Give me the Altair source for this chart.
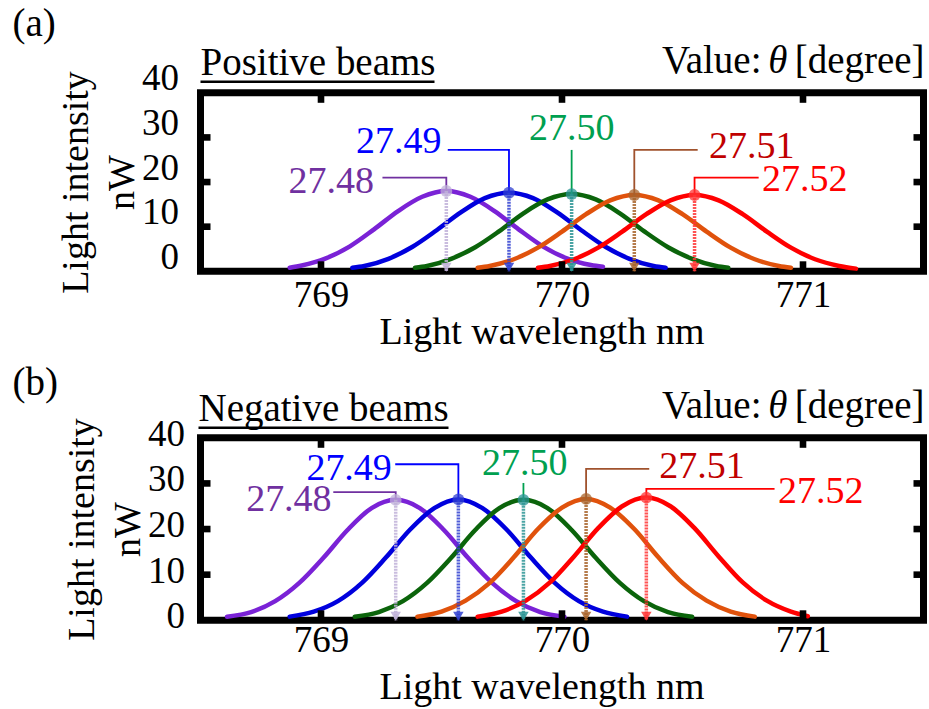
import altair as alt
import pandas as pd

FONT = "Liberation Serif, Times New Roman, Tinos, DejaVu Serif, serif"

SERIES = ["27.48", "27.49", "27.50", "27.51", "27.52"]
CURVE_COLORS = ["#7a22d6", "#0000dd", "#0b640b", "#e0520c", "#ff0000"]
ARROW_COLORS = ["#bfb0d8", "#2f3fd0", "#2a9494", "#a8642c", "#ff3535"]
LEADER_COLORS = ["#7030a0", "#0000ff", "#00a050", "#a0522d", "#ff0000"]
LABEL_COLORS = ["#7030a0", "#0000ff", "#00a050", "#c00000", "#ff0000"]
LABEL_ALIGN = ["right", "right", "center", "left", "left"]

X_TICKS = [769, 770, 771]
Y_TICKS = [0, 10, 20, 30, 40]
X_DOMAIN = [768.5, 771.5]
Y_DOMAIN = [0, 40]

# ---------------- (a) Positive beams ----------------
pos_wl_2748 = [768.87, 768.92, 769.02, 769.12, 769.22, 769.32, 769.42, 769.52, 769.62, 769.72, 769.82, 769.92, 770.02, 770.12, 770.17]
pos_nw_2748 = [0.8, 1.3, 2.9, 5.6, 9.4, 13.5, 16.7, 18.0, 16.7, 13.5, 9.4, 5.6, 2.9, 1.4, 1.0]
pos_wl_2749 = [769.13, 769.18, 769.28, 769.38, 769.48, 769.58, 769.68, 769.78, 769.88, 769.98, 770.08, 770.18, 770.28, 770.38, 770.43]
pos_nw_2749 = [0.8, 1.2, 2.8, 5.5, 9.2, 13.2, 16.4, 17.6, 16.4, 13.2, 9.2, 5.5, 2.8, 1.2, 0.8]
pos_wl_2750 = [769.39, 769.44, 769.54, 769.64, 769.74, 769.84, 769.94, 770.04, 770.14, 770.24, 770.34, 770.44, 770.54, 770.64, 770.69]
pos_nw_2750 = [0.8, 1.2, 2.8, 5.4, 9.0, 13.0, 16.1, 17.3, 16.1, 13.0, 9.0, 5.4, 2.8, 1.2, 0.8]
pos_wl_2751 = [769.65, 769.70, 769.80, 769.90, 770.00, 770.10, 770.20, 770.30, 770.40, 770.50, 770.60, 770.70, 770.80, 770.90, 770.95]
pos_nw_2751 = [0.8, 1.2, 2.7, 5.3, 8.9, 12.8, 15.9, 17.1, 15.9, 12.8, 8.9, 5.3, 2.7, 1.2, 0.8]
pos_wl_2752 = [769.90, 769.95, 770.05, 770.15, 770.25, 770.35, 770.45, 770.55, 770.65, 770.75, 770.85, 770.95, 771.05, 771.15, 771.22]
pos_nw_2752 = [0.8, 1.2, 2.7, 5.3, 8.9, 12.8, 15.9, 17.1, 15.9, 12.8, 8.9, 5.3, 2.7, 1.2, 0.6]

pos_peak_wl = [769.52, 769.78, 770.04, 770.30, 770.55]
pos_peak_nw = [18.0, 17.6, 17.3, 17.1, 17.1]
pos_label_wl = [769.22, 769.50, 770.04, 770.61, 770.83]
pos_label_nw = [17.5, 26.4, 29.4, 25.3, 17.9]
pos_leader_wl = [769.255, 769.526, 770.04, 770.563, 770.816]
pos_leader_nw = [21.0, 27.2, 27.2, 27.2, 21.0]

# ---------------- (b) Negative beams ----------------
neg_wl_2748 = [768.61, 768.71, 768.81, 768.91, 769.01, 769.11, 769.21, 769.31, 769.41, 769.51, 769.61, 769.71, 769.81, 769.91, 770.01]
neg_nw_2748 = [0.8, 1.8, 4.2, 8.2, 13.7, 19.8, 24.6, 26.4, 24.6, 19.8, 13.7, 8.2, 4.2, 1.8, 0.8]
neg_wl_2749 = [768.87, 768.97, 769.07, 769.17, 769.27, 769.37, 769.47, 769.57, 769.67, 769.77, 769.87, 769.97, 770.07, 770.17, 770.27]
neg_nw_2749 = [0.8, 1.9, 4.2, 8.2, 13.8, 19.9, 24.6, 26.5, 24.6, 19.9, 13.8, 8.2, 4.2, 1.9, 0.8]
neg_wl_2750 = [769.14, 769.24, 769.34, 769.44, 769.54, 769.64, 769.74, 769.84, 769.94, 770.04, 770.14, 770.24, 770.34, 770.44, 770.54]
neg_nw_2750 = [0.8, 1.8, 4.2, 8.2, 13.7, 19.8, 24.6, 26.4, 24.6, 19.8, 13.7, 8.2, 4.2, 1.8, 0.8]
neg_wl_2751 = [769.40, 769.50, 769.60, 769.70, 769.80, 769.90, 770.00, 770.10, 770.20, 770.30, 770.40, 770.50, 770.60, 770.70, 770.80]
neg_nw_2751 = [0.8, 1.9, 4.3, 8.2, 13.8, 20.0, 24.7, 26.6, 24.7, 20.0, 13.8, 8.2, 4.3, 1.9, 0.8]
neg_wl_2752 = [769.65, 769.75, 769.85, 769.95, 770.05, 770.15, 770.25, 770.35, 770.45, 770.55, 770.65, 770.75, 770.85, 770.95, 771.02]
neg_nw_2752 = [0.8, 1.9, 4.3, 8.3, 14.0, 20.2, 25.0, 26.9, 25.0, 20.2, 14.0, 8.3, 4.3, 1.9, 0.9]

neg_peak_wl = [769.31, 769.57, 769.84, 770.10, 770.35]
neg_peak_nw = [26.4, 26.5, 26.4, 26.6, 26.9]
neg_label_wl = [769.044, 769.294, 769.845, 770.404, 770.896]
neg_label_nw = [23.9, 30.8, 31.9, 31.2, 25.7]
neg_leader_wl = [769.051, 769.308, 769.84, 770.362, 770.882]
neg_leader_nw = [28.1, 34.2, 30.1, 33.2, 28.8]

# frame tick glyphs (inward)
TICK_UP = "M-0.33,0 L0.33,0 L0.33,-1 L-0.33,-1 Z"
TICK_DOWN = "M-0.33,0 L0.33,0 L0.33,1 L-0.33,1 Z"
TICK_RIGHT = "M0,-0.33 L1,-0.33 L1,0.33 L0,0.33 Z"
TICK_LEFT = "M0,-0.33 L-1,-0.33 L-1,0.33 L0,0.33 Z"


def build_panel(wls, nws, peak_wl, peak_nw, label_wl, label_nw, leader_wl, leader_nw,
                tag, title, height, lay):
    xs = alt.Scale(domain=X_DOMAIN, nice=False, zero=False)
    ys = alt.Scale(domain=Y_DOMAIN, nice=False, zero=False)
    xaxis = alt.Axis(values=X_TICKS, format="d", title="Light wavelength nm",
                     labelFont=FONT, labelFontSize=37, titleFont=FONT, titleFontSize=38,
                     titleFontWeight="normal", labelColor="black", titleColor="black",
                     domain=False, ticks=False, tickSize=0, grid=False,
                     labelBaseline="alphabetic", labelPadding=lay["xlabpad"],
                     titleBaseline="alphabetic", titlePadding=lay["xtitlepad"],
                     titleX=341, labelFlush=False)
    yaxis = alt.Axis(values=Y_TICKS, format="d", title=["Light intensity", "nW"],
                     labelFont=FONT, labelFontSize=37, titleFont=FONT, titleFontSize=38,
                     titleFontWeight="normal", labelColor="black", titleColor="black",
                     domain=False, ticks=False, tickSize=0, grid=False,
                     labelBaseline="alphabetic", labelOffset=lay["ylaboff"],
                     labelPadding=lay["ylabpad"], titlePadding=lay["ytitlepad"],
                     titleLineHeight=46, labelFlush=False)

    def X(f):
        return alt.X(f"{f}:Q", scale=xs, axis=xaxis)

    def Y(f):
        return alt.Y(f"{f}:Q", scale=ys, axis=yaxis)

    rows = []
    for name, wl, nw in zip(SERIES, wls, nws):
        for a, b in zip(wl, nw):
            rows.append({"series": name, "wl": a, "nw": b})
    curves = pd.DataFrame(rows)

    peaks = pd.DataFrame({"series": SERIES, "wl": peak_wl, "nw": peak_nw,
                          "base": [0] * 5, "c": ARROW_COLORS})

    lrows = []
    for i, name in enumerate(SERIES):
        lrows.append({"series": name, "k": 0, "wl": leader_wl[i], "nw": leader_nw[i], "c": LEADER_COLORS[i]})
        lrows.append({"series": name, "k": 1, "wl": peak_wl[i], "nw": leader_nw[i], "c": LEADER_COLORS[i]})
        lrows.append({"series": name, "k": 2, "wl": peak_wl[i], "nw": peak_nw[i], "c": LEADER_COLORS[i]})
    leaders = pd.DataFrame(lrows)

    labels = pd.DataFrame({"series": SERIES, "wl": label_wl, "nw": label_nw,
                           "c": LABEL_COLORS, "al": LABEL_ALIGN})

    trows = []
    for v in X_TICKS:
        trows.append({"x": v, "y": Y_DOMAIN[0], "s": TICK_UP})
        trows.append({"x": v, "y": Y_DOMAIN[1], "s": TICK_DOWN})
    for v in Y_TICKS[1:-1]:
        trows.append({"x": X_DOMAIN[0], "y": v, "s": TICK_RIGHT})
        trows.append({"x": X_DOMAIN[1], "y": v, "s": TICK_LEFT})
    ticks = pd.DataFrame(trows)

    line_layer = alt.Chart(curves).mark_line(strokeWidth=4.5, interpolate="monotone", strokeCap="round").encode(
        x=X("wl"), y=Y("nw"),
        color=alt.Color("series:N", scale=alt.Scale(domain=SERIES, range=CURVE_COLORS), legend=None),
        detail="series:N",
    )
    arrow_layer = alt.Chart(peaks).mark_rule(strokeWidth=3.5, opacity=0.85, strokeDash=[2, 1]).encode(
        x=X("wl"), y=Y("nw"), y2="base:Q", color=alt.Color("c:N", scale=None)
    )
    circle_layer = alt.Chart(peaks).mark_point(filled=True, size=140, opacity=0.75, shape="circle").encode(
        x=X("wl"), y=Y("nw"), color=alt.Color("c:N", scale=None)
    )
    tri_layer = alt.Chart(peaks).mark_point(filled=True, size=110, opacity=0.85, shape="triangle-down", yOffset=-4).encode(
        x=X("wl"), y=Y("base"), color=alt.Color("c:N", scale=None)
    )
    leader_layer = alt.Chart(leaders).mark_line(strokeWidth=1.8).encode(
        x=X("wl"), y=Y("nw"), detail="series:N", order="k:Q", color=alt.Color("c:N", scale=None)
    )
    text_layers = []
    for al in ["right", "center", "left"]:
        text_layers.append(
            alt.Chart(labels).transform_filter(alt.datum.al == al).mark_text(
                align=al, baseline="alphabetic", font=FONT, fontSize=38
            ).encode(x=X("wl"), y=Y("nw"), text="series:N", color=alt.Color("c:N", scale=None))
        )
    tick_layer = alt.Chart(ticks).mark_point(filled=True, size=400, opacity=1, color="black", strokeWidth=0).encode(
        x=X("x"), y=Y("y"), shape=alt.Shape("s:N", scale=None)
    )

    def txt(s, x, y, align="left", style="normal"):
        return alt.Chart(pd.DataFrame({"t": [s]})).mark_text(
            align=align, baseline="alphabetic", font=FONT, fontSize=39, fontStyle=style, color="black"
        ).encode(x=alt.value(x), y=alt.value(y), text="t:N")

    headers = [
        txt(tag, lay["tag_x"], lay["tag_y"]),
        txt(title, lay["title_x"], lay["title_y"]),
        alt.Chart(pd.DataFrame({"t": [title]})).mark_rule(color="black", strokeWidth=2.5).encode(
            x=alt.value(lay["ul_x1"]), x2=alt.value(lay["ul_x2"]), y=alt.value(lay["ul_y"])
        ),
        txt("Value:", 561, lay["val_y"], align="right"),
        txt("\u03b8", 587, lay["val_y"], align="right", style="italic"),
        txt("[degree]", 724, lay["val_y"], align="right"),
    ]

    return alt.layer(line_layer, arrow_layer, leader_layer, circle_layer, tri_layer,
                     *text_layers, tick_layer, *headers).properties(width=723, height=height)


lay_a = dict(xlabpad=35, xtitlepad=30, ylaboff=-3, ylabpad=22, ytitlepad=0,
             tag_x=-188, tag_y=-56.5, title_x=0, title_y=-18, ul_x1=0, ul_x2=234, ul_y=-11, val_y=-20)
lay_b = dict(xlabpad=31, xtitlepad=40, ylaboff=7.5, ylabpad=16, ytitlepad=0,
             tag_x=-188, tag_y=-43, title_x=-2, title_y=-17, ul_x1=-2, ul_x2=248, ul_y=-10, val_y=-20)

top = build_panel([pos_wl_2748, pos_wl_2749, pos_wl_2750, pos_wl_2751, pos_wl_2752],
                  [pos_nw_2748, pos_nw_2749, pos_nw_2750, pos_nw_2751, pos_nw_2752],
                  pos_peak_wl, pos_peak_nw, pos_label_wl, pos_label_nw, pos_leader_wl, pos_leader_nw,
                  "(a)", "Positive beams", 178.5, lay_a)
bottom = build_panel([neg_wl_2748, neg_wl_2749, neg_wl_2750, neg_wl_2751, neg_wl_2752],
                     [neg_nw_2748, neg_nw_2749, neg_nw_2750, neg_nw_2751, neg_nw_2752],
                     neg_peak_wl, neg_peak_nw, neg_label_wl, neg_label_nw, neg_leader_wl, neg_leader_nw,
                     "(b)", "Negative beams", 182.5, lay_b)

chart = alt.vconcat(top, bottom, spacing=5).properties(
    padding={"left": 8.5, "top": 1.8, "right": 0, "bottom": 0}
).configure(font=FONT, background="white").configure_view(stroke="black", strokeWidth=7)

chart.save("out.html", embed_options={"renderer": "svg", "actions": False})
